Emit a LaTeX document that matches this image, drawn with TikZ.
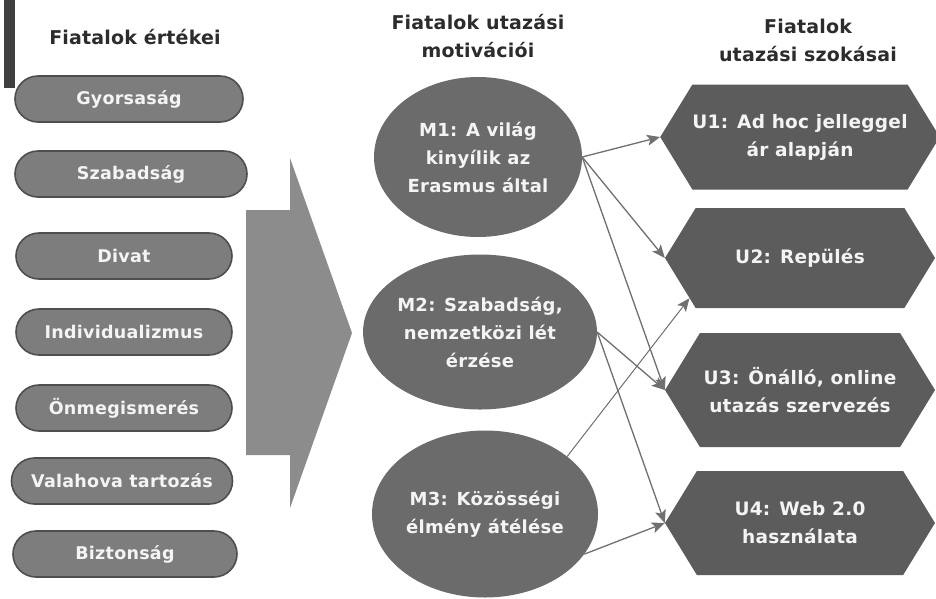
\documentclass[tikz,border=0pt]{standalone}
\usepackage{fontspec}
\setmainfont{DejaVu Sans}
\newfontfamily\lblfont[LetterSpace=1.5]{DejaVu Sans}
\newfontfamily\hdrfont[LetterSpace=1]{DejaVu Sans}
\usetikzlibrary{shapes.misc,shapes.symbols,shapes.geometric,arrows.meta}
\definecolor{pillfill}{HTML}{7D7D7D}
\definecolor{pilledge}{HTML}{4E4E4E}
\definecolor{ellfill}{HTML}{6B6B6B}
\definecolor{hexfill}{HTML}{5C5C5C}
\definecolor{bigarrow}{HTML}{8C8C8C}
\definecolor{hdrcol}{HTML}{2C2C2C}
\definecolor{linkcol}{HTML}{707070}
\definecolor{txtcol}{HTML}{F4F4F4}
\tikzset{
  pill/.style={rounded rectangle, fill=pillfill, draw=pilledge, line width=1.6pt,
    minimum height=46pt, inner sep=0pt, text=txtcol,
    font=\lblfont\bfseries\fontsize{17.5}{20}\selectfont},
  motiv/.style={ellipse, fill=ellfill, inner sep=0pt, text=txtcol, align=center,
    font=\lblfont\bfseries\fontsize{18}{28}\selectfont},
  habit/.style={signal, signal to=west and east, signal pointer angle=117,
    fill=hexfill, minimum width=270pt, inner sep=0pt, text=txtcol, align=center,
    font=\lblfont\bfseries\fontsize{18.5}{28}\selectfont},
  header/.style={text=hdrcol, align=center, inner sep=0pt,
    font=\hdrfont\bfseries\fontsize{19}{28}\selectfont},
  link/.style={draw=linkcol, line width=1.3pt,
    -{Stealth[length=13pt,width=11pt,inset=3pt]}}
}
\begin{document}
\begin{tikzpicture}[x=1pt,y=-1pt]
\useasboundingbox (0,0) rectangle (936,598);
\fill[white] (0,0) rectangle (936,598);
% dark bar at top-left
\fill[black!75] (4,0) rectangle (15,88);
% headers
\node[header] (h1) at (135,37) {Fiatalok értékei};
\node[header] (h2) at (478,36) {Fiatalok utazási\\motivációi};
\node[header] (h3) at (808,40) {Fiatalok\\utazási szokásai};
% values (pills)
\node[pill, minimum width=228pt] (p1) at (129,99) {Gyorsaság};
\node[pill, minimum width=232pt] (p2) at (131,174) {Szabadság};
\node[pill, minimum width=216pt] (p3) at (124,256) {Divat};
\node[pill, minimum width=216pt] (p4) at (124,332) {Individualizmus};
\node[pill, minimum width=216pt] (p5) at (124,408) {Önmegismerés};
\node[pill, minimum width=221pt] (p6) at (122,481) {Valahova tartozás};
\node[pill, minimum width=224pt] (p7) at (125,554) {Biztonság};
% big arrow
\fill[bigarrow] (246,210) -- (290,210) -- (290,158) -- (352,333) -- (290,508)
  -- (290,455) -- (246,455) -- cycle;
% motivations
\node[motiv, minimum width=208pt, minimum height=160pt] (M1) at (478,157)
  {M1: A világ\\kinyílik az\\Erasmus által};
\node[motiv, minimum width=226pt, minimum height=155pt] (M2) at (480,332)
  {M2: Szabadság,\\nemzetközi lét\\érzése};
\node[motiv, minimum width=226pt, minimum height=167pt] (M3) at (485,514)
  {M3: Közösségi\\élmény átélése};
% habits
\node[habit, minimum height=105pt] (U1) at (800,137) {U1: Ad hoc jelleggel\\ár alapján};
\node[habit, minimum height=100pt] (U2) at (800,258) {U2: Repülés};
\node[habit, minimum height=114pt] (U3) at (800,390) {U3: Önálló, online\\utazás szervezés};
\node[habit, minimum height=104pt] (U4) at (800,523) {U4: Web 2.0\\használata};
% connectors
\draw[link] (M1.east) -- (U1.west);
\draw[link] (M1.east) -- (U2.west);
\draw[link] (M1.east) -- (U3.west);
\draw[link] (M2.east) -- (U3.west);
\draw[link] (M2.east) -- (U4.west);
\draw[link, line width=1pt] (M3.35) -- (U2.200);
\draw[link] (M3.-22) -- (U4.west);
\end{tikzpicture}
\end{document}
